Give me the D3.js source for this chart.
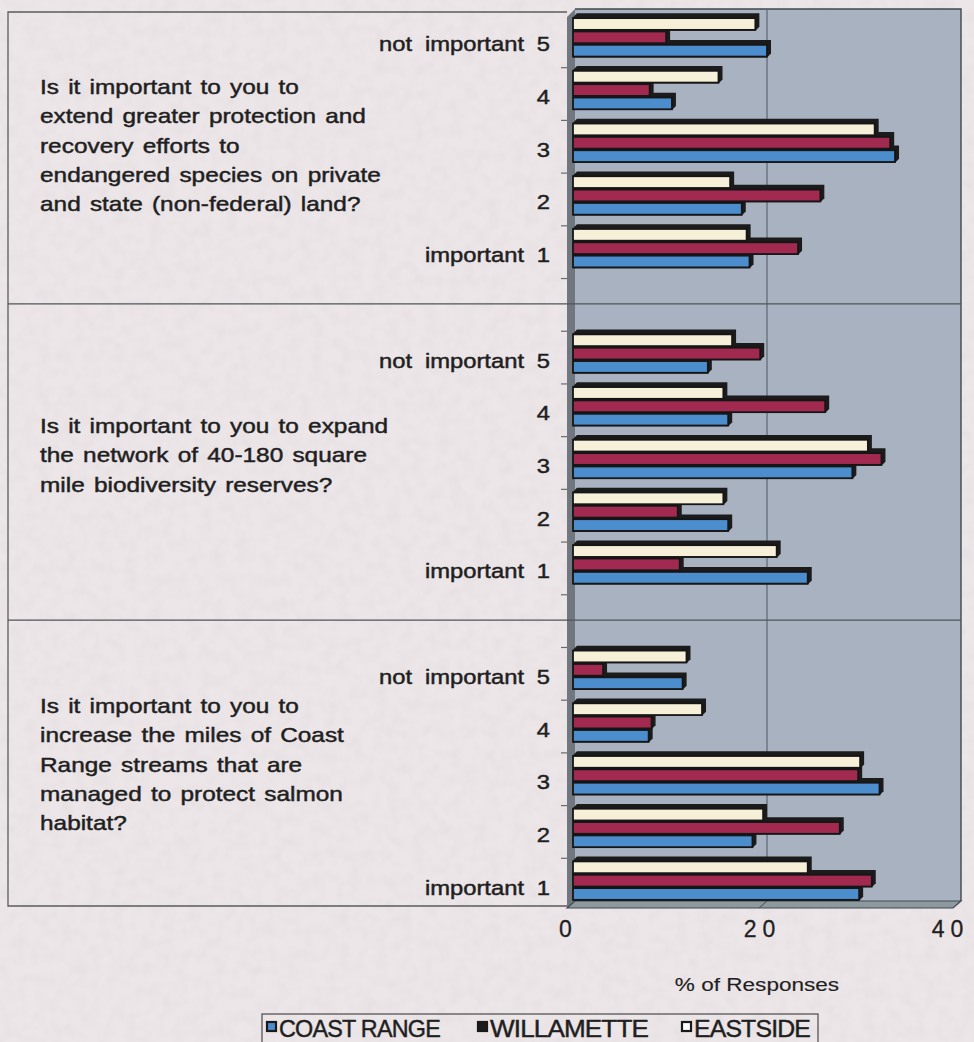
<!DOCTYPE html>
<html>
<head>
<meta charset="utf-8">
<script src="https://cdn.jsdelivr.net/npm/d3@7"></script>
<style>
  html, body { margin: 0; padding: 0; background: #ece6e9; }
  svg { display: block; }
  text { font-family: "Liberation Sans", Arial, Helvetica, sans-serif; fill: #1f1f1f; }
</style>
</head>
<body>
<svg id="chart" width="974" height="1042"></svg>
<script>
// Survey regions (legend order)
const seriesNames = ["COAST RANGE", "WILLAMETTE", "EASTSIDE"];
// Rating categories, listed top to bottom within each question
const ratingLabels = ["not important 5", "4", "3", "2", "important 1"];
// Question text, one entry per wrapped line
const questions = [
  ["Is it important to you to", "extend greater protection and", "recovery efforts to",
   "endangered species on private", "and state (non-federal) land?"],
  ["Is it important to you to expand", "the network of 40-180 square", "mile biodiversity reserves?"],
  ["Is it important to you to", "increase the miles of Coast", "Range streams that are",
   "managed to protect salmon", "habitat?"]
];
// % of responses per question, ratings 5,4,3,2,1
const coastRange = [
  [20.0, 10.2, 33.2, 17.4, 18.2],
  [13.9, 16.0, 28.8, 16.0, 24.2],
  [11.3,  7.8, 31.6, 18.5, 29.5]
];
const willamette = [
  [ 9.6,  7.9, 32.7, 25.5, 23.2],
  [19.3, 26.0, 31.8, 10.8, 11.0],
  [ 3.1,  8.1, 29.4, 27.5, 30.8]
];
const eastside = [
  [18.8, 15.0, 31.1, 16.2, 17.9],
  [16.4, 15.5, 30.4, 15.5, 21.0],
  [11.7, 13.3, 29.6, 19.6, 24.2]
];
const xTicks = [0, 20, 40];
const axisTitle = "% of Responses";

const valuesBySeries = { "COAST RANGE": coastRange, "WILLAMETTE": willamette, "EASTSIDE": eastside };
const fills = { "COAST RANGE": "#4b8dcd", "WILLAMETTE": "#a22a50", "EASTSIDE": "#f6f0d9" };
const legendSwatch = { "COAST RANGE": "#4b8dcd", "WILLAMETTE": "#1c1c1c", "EASTSIDE": "#ffffff" };

// Category slots: five ratings per question with an empty slot between questions
const slots = [];
questions.forEach((q, qi) => {
  ratingLabels.forEach((lab, ri) => slots.push({ key: `q${qi}r${ri}`, q: qi, r: ri, label: lab }));
  if (qi < questions.length - 1) slots.push({ key: `gap${qi}`, gap: true });
});

const svg = d3.select("#chart");
const ink = "#1f1f1f";
const TEXT_SX = 1.22;   // wide scanned lettering
const DEPTH = 4;        // 3-D depth of the bars and walls

// paper grain
const defs = svg.append("defs");
const grain = defs.append("filter").attr("id", "grain").attr("x", 0).attr("y", 0)
  .attr("width", "100%").attr("height", "100%");
grain.append("feTurbulence").attr("type", "fractalNoise").attr("baseFrequency", 0.08)
  .attr("numOctaves", 2).attr("seed", 7);
grain.append("feColorMatrix").attr("type", "matrix")
  .attr("values", "0 0 0 0 0.45  0 0 0 0 0.42  0 0 0 0 0.44  0 0 0 0.5 -0.18");
svg.append("rect").attr("width", 974).attr("height", 1042).attr("fill", "#ece6e9");
svg.append("rect").attr("width", 974).attr("height", 1042).attr("filter", "url(#grain)").attr("opacity", 0.35);

const x = d3.scaleLinear().domain([0, 40]).range([573, 961]);
const y = d3.scaleBand().domain(slots.map(s => s.key)).range([11, 907])
  .paddingInner(0.24).paddingOuter(0.12);
const inner = d3.scaleBand().domain(["EASTSIDE", "WILLAMETTE", "COAST RANGE"])
  .range([0, y.bandwidth()]);
const step = y.step();
const boundary = k => y.range()[0] + k * step;

const plotTop = 9, plotBottom = 901, wallX = 575, frontX = 567, frontBottom = 908;
const frameLeft = 8, frameTop = 12;
const gapY = slots.filter(s => s.gap).map(s => y(s.key) + y.bandwidth() / 2 + 3);

// ---- frame around question text ----
const frame = svg.append("g").attr("stroke", "#5b5b5b").attr("stroke-width", 1.3).attr("fill", "none");
frame.append("path").attr("d",
  `M${frontX},${frameTop} H${frameLeft} V${frontBottom - 2} H${frontX}`);

// ---- plot walls ----
const plot = svg.append("g");
plot.append("rect").attr("x", wallX).attr("y", plotTop)
  .attr("width", x(40) - wallX).attr("height", plotBottom - plotTop)
  .attr("fill", "#a9b2c0");
plot.append("path").attr("fill", "#70777e")
  .attr("d", `M${frontX},${plotTop + DEPTH + 4} L${wallX},${plotTop} V${plotBottom} L${frontX},${frontBottom} Z`);
plot.append("path").attr("fill", "#8e999f").attr("stroke", "#3d4a50").attr("stroke-width", 1.2)
  .attr("d", `M${frontX},${frontBottom} L${wallX},${plotBottom} H${x(40)} L${x(40) - 8},${frontBottom} Z`);
// top and right edges of the back wall
plot.append("path").attr("fill", "none").attr("stroke", "#3e4a4e").attr("stroke-width", 1.4)
  .attr("d", `M${wallX},${plotTop} H${x(40)} V${plotBottom}`);

// value gridline
plot.selectAll("line.grid").data(xTicks.filter(v => v > 0 && v < 40)).join("line")
  .attr("class", "grid")
  .attr("x1", d => x(d)).attr("x2", d => x(d))
  .attr("y1", plotTop).attr("y2", plotBottom)
  .attr("stroke", "#5d6673").attr("stroke-width", 1.2);
plot.selectAll("line.floorTick").data(xTicks.filter(v => v > 0 && v < 40)).join("line")
  .attr("x1", d => x(d)).attr("x2", d => x(d) - 8)
  .attr("y1", plotBottom).attr("y2", frontBottom)
  .attr("stroke", "#3d4a50").attr("stroke-width", 1);

// separators between the three questions
svg.selectAll("line.sep").data(gapY).join("line")
  .attr("class", "sep")
  .attr("x1", frameLeft).attr("x2", x(40))
  .attr("y1", d => d).attr("y2", d => d)
  .attr("stroke", "#4f5559").attr("stroke-width", 1.3);

// category-axis ticks at slot boundaries
svg.selectAll("line.ytick").data(d3.range(1, slots.length)).join("line")
  .attr("x1", frontX - 6).attr("x2", frontX)
  .attr("y1", k => boundary(k) + 4).attr("y2", k => boundary(k) + 4)
  .attr("stroke", "#6a6a6a").attr("stroke-width", 1.2);

// ---- bars ----
const barData = [];
slots.filter(s => !s.gap).forEach(s => {
  seriesNames.forEach(name => {
    barData.push({ slot: s.key, series: name, value: valuesBySeries[name][s.q][s.r] });
  });
});
const barY = d => y(d.slot) + inner(d.series);
const bh = inner.bandwidth();

// depth faces first, then the fronts on top
svg.append("g").selectAll("path").data(barData).join("path")
  .attr("fill", "#1b1b1b")
  .attr("d", d => {
    const x0 = x(0), x1 = x(d.value), y0 = barY(d), y1 = y0 + bh;
    return `M${x0},${y0} L${x0 + DEPTH},${y0 - DEPTH} H${x1 + DEPTH} V${y1 - DEPTH} L${x1},${y1} H${x0} Z`;
  });
svg.append("g").selectAll("rect").data(barData).join("rect")
  .attr("x", x(0)).attr("y", d => barY(d) + 0.8)
  .attr("width", d => x(d.value) - x(0)).attr("height", bh - 1.6)
  .attr("fill", d => fills[d.series])
  .attr("stroke", "#161616").attr("stroke-width", 1.8);

// ---- text ----
function wideText(sel, tx, ty, str, anchor, size, weight) {
  const g = sel.append("g").attr("transform", `translate(${tx},${ty}) scale(${TEXT_SX},1)`);
  return g.append("text").attr("text-anchor", anchor || "start")
    .attr("font-size", size || 20)
    .attr("stroke", ink).attr("stroke-width", weight == null ? 0.45 : weight)
    .text(str);
}

// rating labels
slots.filter(s => !s.gap).forEach(s => {
  const t = wideText(svg, 550, y(s.key) + y.bandwidth() / 2 + 14, s.label, "end", 19.5);
  t.attr("word-spacing", 5);
});

// question text, one block per question
const qFirstBaseline = [94, 433, 713];
const lineGap = 29.3;
questions.forEach((lines, qi) => {
  lines.forEach((line, li) => {
    wideText(svg, 40, qFirstBaseline[qi] + li * lineGap, line, "start", 20).attr("word-spacing", 2);
  });
});

// value axis, drawn on the front edge of the floor
const xFront = d3.scaleLinear().domain(x.domain()).range(x.range().map(v => v - 8));
const xAxis = svg.append("g").attr("transform", `translate(0,${frontBottom + 8})`)
  .call(d3.axisBottom(xFront).tickValues(xTicks).tickSize(0).tickPadding(0).tickFormat(d3.format("d")));
xAxis.select(".domain").remove();
xAxis.selectAll("text")
  .attr("font-size", 23).attr("letter-spacing", 6).attr("dy", "0.9em")
  .attr("dx", d => (d === 40 ? -3 : 3))
  .attr("fill", ink).attr("stroke", ink).attr("stroke-width", 0.3)
  .attr("font-family", "\"Liberation Sans\", Arial, sans-serif");

wideText(svg, 757, 991, axisTitle, "middle", 18.5, 0.15);

// ---- legend ----
const legend = svg.append("g");
legend.append("rect").attr("x", 262).attr("y", 1014).attr("width", 556).attr("height", 40)
  .attr("fill", "none").attr("stroke", "#555").attr("stroke-width", 1.3);
const legendX = [267, 478, 682];
const legendEnd = [440, 648, 810];
seriesNames.forEach((name, i) => {
  legend.append("rect").attr("x", legendX[i]).attr("y", 1022).attr("width", 9).attr("height", 9)
    .attr("fill", legendSwatch[name]).attr("stroke", "#1a1a1a").attr("stroke-width", 2.2);
  legend.append("text").attr("x", legendX[i] + 12).attr("y", 1037)
    .attr("font-family", "\"Liberation Sans Narrow\", \"Liberation Sans\", Arial, sans-serif")
    .attr("font-size", 24).attr("letter-spacing", -0.8)
    .attr("stroke", ink).attr("stroke-width", 0.45)
    .attr("textLength", legendEnd[i] - legendX[i] - 12).attr("lengthAdjust", "spacingAndGlyphs")
    .text(name);
});
</script>
</body>
</html>
